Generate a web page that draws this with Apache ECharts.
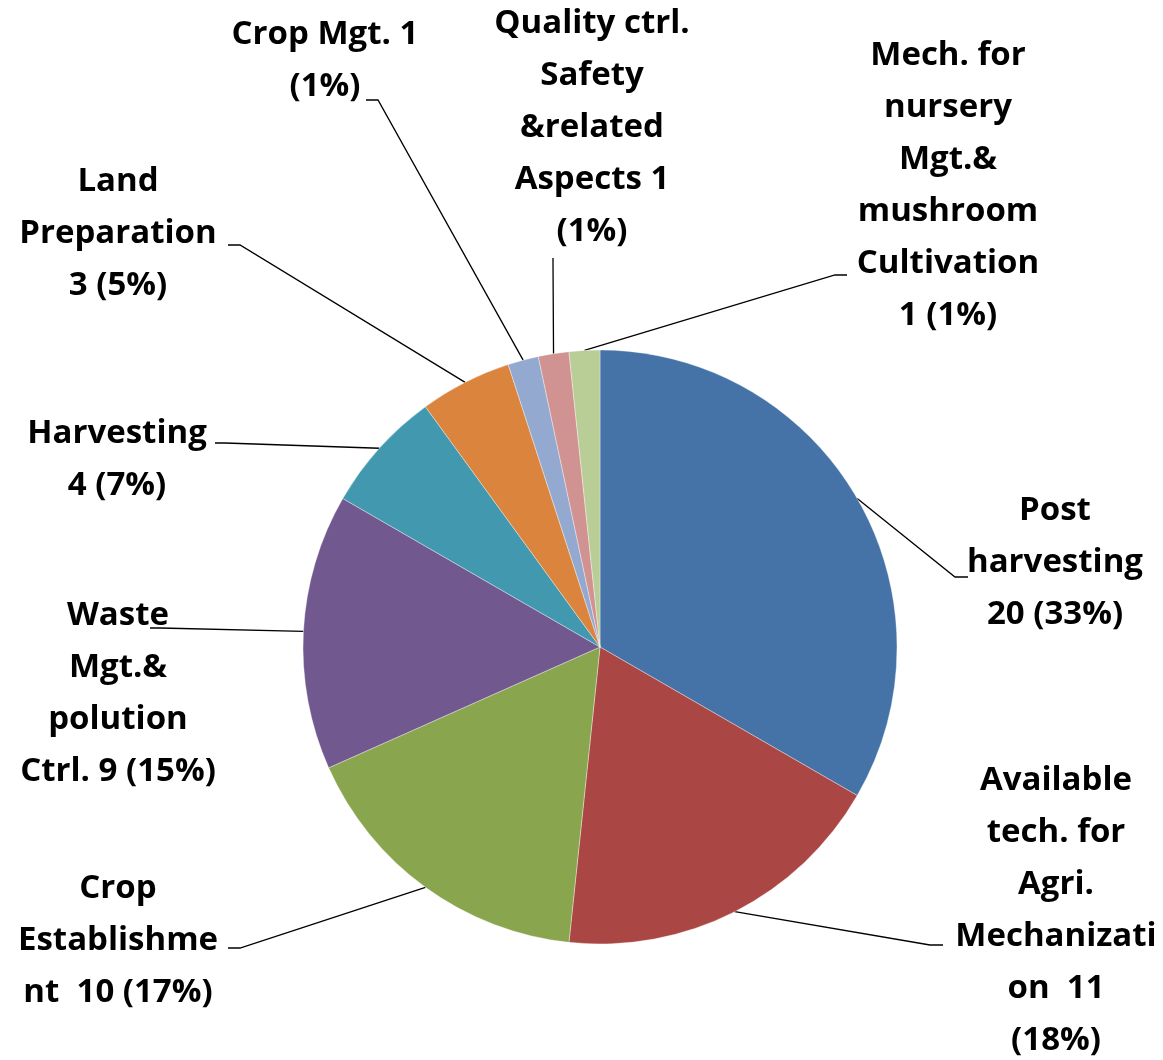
<!DOCTYPE html>
<html>
<head>
<meta charset="utf-8">
<script src="https://cdn.jsdelivr.net/npm/echarts@6/dist/echarts.min.js"></script>
<style>
  html, body { margin: 0; padding: 0; background: #fff; }
  #pieChart { width: 1163px; height: 1060px; }
</style>
</head>
<body>
<div id="pieChart"></div>
<script>
// data
var categories = ['Post harvesting', 'Available tech. for Agri. Mechanization', 'Crop Establishment',
  'Waste Mgt.& polution Ctrl.', 'Harvesting', 'Land Preparation', 'Crop Mgt.',
  'Quality ctrl. Safety &related Aspects', 'Mech. for nursery Mgt.& mushroom Cultivation']
var values = [20, 11, 10, 9, 4, 3, 1, 1, 1]
// percentages as printed on the chart
var percents = [33, 18, 17, 15, 7, 5, 1, 1, 1]
// label text as wrapped in the picture, {v} = value, {p} = percent
var labelTexts = [
  'Post\nharvesting\n{v} ({p}%)',
  'Available\ntech. for\nAgri.\nMechanizati\non  {v}\n({p}%)',
  'Crop\nEstablishme\nnt  {v} ({p}%)',
  'Waste\nMgt.&\npolution\nCtrl. {v} ({p}%)',
  'Harvesting\n{v} ({p}%)',
  'Land\nPreparation\n{v} ({p}%)',
  'Crop Mgt. {v}\n({p}%)',
  'Quality ctrl.\nSafety\n&related\nAspects {v}\n({p}%)',
  'Mech. for\nnursery\nMgt.&\nmushroom\nCultivation\n{v} ({p}%)'
]
var colors = ['#4572A7', '#AA4643', '#89A54E', '#71588F', '#4198AF', '#DB843D', '#93A9CF', '#D19392', '#B9CD96']

// label placement (centre of text block, elbow and end of leader line)
var labelSpots = [
  { x: 1055, y: 563, bend: [955, 577], end: [968, 577] },
  { x: 1056, y: 911, bend: [930, 945], end: [943, 945] },
  { x: 118, y: 941, bend: [240, 948], end: [228, 948] },
  { x: 118, y: 694, bend: [160, 628], end: [150, 628] },
  { x: 117, y: 460, bend: [225, 443], end: [215, 443] },
  { x: 118, y: 234, bend: [240, 245], end: [228, 245] },
  { x: 325, y: 61, bend: [378, 100], end: [366, 100] },
  { x: 592, y: 128, bend: [553, 262], end: [553, 258] },
  { x: 948, y: 186, bend: [835, 275], end: [847, 275] }
]

var pieData = categories.map(function (name, i) {
  return { name: name, value: values[i], itemStyle: { color: colors[i] } }
})

var chart = echarts.init(document.getElementById('pieChart'))
chart.setOption({
  animation: false,
  backgroundColor: '#fff',
  series: [{
    type: 'pie',
    center: [600, 647],
    radius: 297,
    startAngle: 90,
    clockwise: true,
    avoidLabelOverlap: false,
    data: pieData,
    itemStyle: { borderColor: 'rgba(255,255,255,0.6)', borderWidth: 0.6 },
    label: {
      show: true,
      position: 'outside',
      color: '#000',
      fontFamily: 'Open Sans',
      fontWeight: 'bold',
      fontSize: 33,
      lineHeight: 52,
      align: 'center',
      formatter: function (p) {
        return labelTexts[p.dataIndex].replace('{v}', p.value).replace('{p}', percents[p.dataIndex])
      }
    },
    labelLine: {
      show: true,
      lineStyle: { color: '#000', width: 1.3 }
    },
    labelLayout: function (params) {
      var s = labelSpots[params.dataIndex]
      var start = params.labelLinePoints ? params.labelLinePoints[0] : s.bend
      return {
        x: s.x,
        y: s.y,
        align: 'center',
        verticalAlign: 'middle',
        labelLinePoints: [start, s.bend, s.end]
      }
    }
  }]
})
</script>
</body>
</html>
